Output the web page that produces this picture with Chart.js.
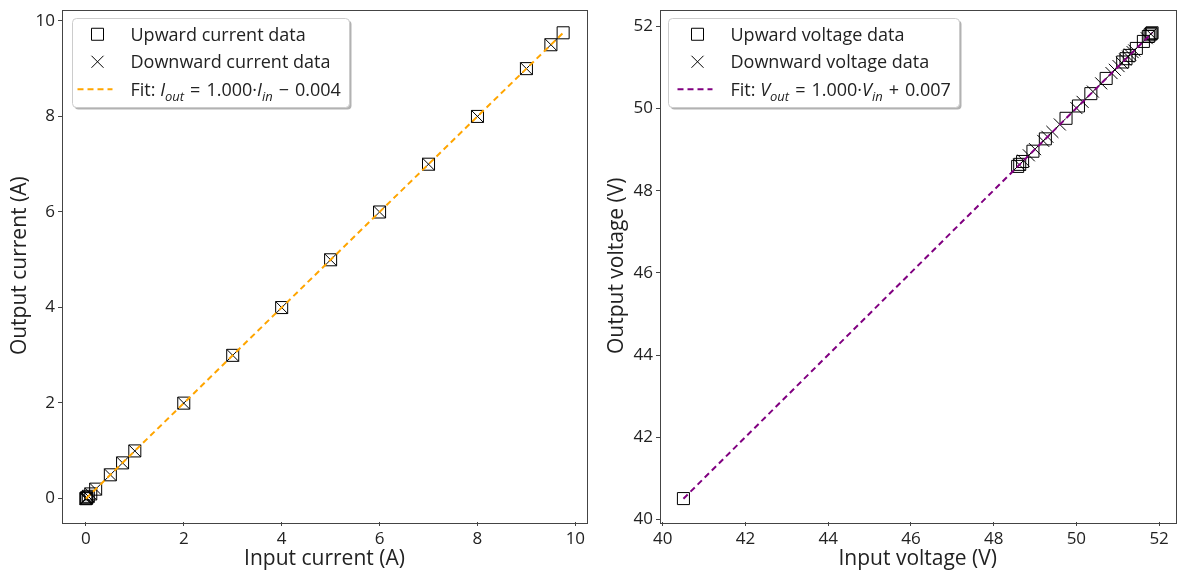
<!DOCTYPE html>
<html>
<head>
<meta charset="utf-8">
<script src="https://cdn.jsdelivr.net/npm/chart.js@4.4.1/dist/chart.umd.min.js"></script>
<style>
  html, body { margin: 0; padding: 0; background: #fff; }
  #wrap { position: relative; width: 1185px; height: 576px; overflow: hidden; }
  #currentChart { position: absolute; left: 0; top: 0; }
  #voltageChart { position: absolute; left: 597px; top: 0; }
</style>
</head>
<body>
<div id="wrap">
  <canvas id="currentChart" width="600" height="576"></canvas>
  <canvas id="voltageChart" width="588" height="576"></canvas>
</div>
<script>
// ---- values ----
var currentUpIn    = [0, 0.01, 0.02, 0.05, 0.1, 0.2, 0.5, 0.75, 1, 2, 3, 4, 5, 6, 7, 8, 9, 9.5, 9.75];
var currentUpOut   = [-0.004, 0.006, 0.016, 0.046, 0.096, 0.196, 0.496, 0.746, 0.996, 1.996, 2.996, 3.996, 4.996, 5.996, 6.996, 7.996, 8.996, 9.496, 9.746];
var currentDownIn  = [9.5, 9, 8, 7, 6, 5, 4, 3, 2, 1, 0.75, 0.5, 0.2, 0.1, 0.05, 0.02, 0.01, 0];
var currentDownOut = [9.496, 8.996, 7.996, 6.996, 5.996, 4.996, 3.996, 2.996, 1.996, 0.996, 0.746, 0.496, 0.196, 0.096, 0.046, 0.016, 0.006, -0.004];
var currentFitIn   = [0, 9.75];
var currentFitOut  = [-0.004, 9.746];

var voltageUpIn    = [40.5, 48.58, 48.63, 48.7, 48.95, 49.25, 49.75, 50.05, 50.35, 50.72, 51.12, 51.2, 51.28, 51.45, 51.62, 51.74, 51.78, 51.81, 51.83];
var voltageUpOut   = [40.51, 48.59, 48.64, 48.71, 48.96, 49.26, 49.76, 50.06, 50.36, 50.73, 51.13, 51.21, 51.29, 51.46, 51.63, 51.75, 51.79, 51.82, 51.84];
var voltageDownIn  = [51.8, 51.7, 51.4, 51.36, 51.3, 51.25, 51.18, 51.1, 51.02, 50.93, 50.85, 50.6, 50.4, 50.15, 50.0, 49.6, 49.42, 49.3, 49.2, 49.0, 48.85, 48.72, 48.62];
var voltageDownOut = [51.81, 51.71, 51.41, 51.37, 51.31, 51.26, 51.19, 51.11, 51.03, 50.94, 50.86, 50.61, 50.41, 50.16, 50.01, 49.61, 49.43, 49.31, 49.21, 49.01, 48.86, 48.73, 48.63];
var voltageFitIn   = [40.5, 51.83];
var voltageFitOut  = [40.507, 51.837];

var currentTicks = [0, 2, 4, 6, 8, 10];
var voltageTicks = [40, 42, 44, 46, 48, 50, 52];

var FONT = '"Open Sans", "DejaVu Sans", sans-serif';
var TEXT = '#222';
var FRAME = '#444';

function pairs(xs, ys) {
  return xs.map(function(x, i) { return { x: x, y: ys[i] }; });
}

// matplotlib-like 5% margins around the data
function limits(lists) {
  var all = [].concat.apply([], lists);
  var lo = Math.min.apply(null, all), hi = Math.max.apply(null, all);
  var pad = (hi - lo) * 0.05;
  return { min: lo - pad, max: hi + pad };
}

// split "Fit: $I_{out} = ...$" into styled pieces (math spaces a bit wider)
function parseRich(label) {
  var segs = [];
  label.split('$').forEach(function(p, i) {
    if (i % 2 === 0) { if (p) segs.push({ t: p }); return; }
    var re = /_\{([^}]*)\}|[A-Za-z]+|[^A-Za-z_]+/g, m;
    while ((m = re.exec(p))) {
      if (m[1] !== undefined) segs.push({ t: m[1], it: true, sub: true });
      else if (/^[A-Za-z]/.test(m[0])) segs.push({ t: m[0], it: true });
      else segs.push({ t: m[0].replace(/ /g, '\u2004') });
    }
  });
  return segs;
}

function segFont(s, size) {
  return (s.it ? 'italic ' : '') + (s.sub ? Math.round(size * 0.7) : size) + 'px ' + FONT;
}

function richText(ctx, label, x, y, size, draw) {
  var w = 0;
  parseRich(label).forEach(function(s) {
    ctx.font = segFont(s, size);
    if (draw) ctx.fillText(s.t, x + w, y + (s.sub ? size * 0.28 : 0));
    w += ctx.measureText(s.t).width;
  });
  return w;
}

function roundRect(ctx, x, y, w, h, r) {
  ctx.beginPath();
  ctx.moveTo(x + r, y);
  ctx.arcTo(x + w, y, x + w, y + h, r);
  ctx.arcTo(x + w, y + h, x, y + h, r);
  ctx.arcTo(x, y + h, x, y, r);
  ctx.arcTo(x, y, x + w, y, r);
  ctx.closePath();
}

// full box frame + legend box inside the plot (top left)
var frameAndLegend = {
  id: 'frameAndLegend',
  afterDraw: function(chart, args, o) {
    var ctx = chart.ctx, a = chart.chartArea;
    ctx.save();
    ctx.strokeStyle = FRAME;
    ctx.lineWidth = 1;
    ctx.strokeRect(Math.round(a.left) + 0.5, Math.round(a.top) + 0.5,
                   Math.round(a.right - a.left), Math.round(a.bottom - a.top));

    var items = chart.data.datasets;
    var x0 = Math.round(a.left + o.x) + 0.5, y0 = Math.round(a.top + o.y) + 0.5;
    var maxW = 0;
    items.forEach(function(ds) { maxW = Math.max(maxW, richText(ctx, ds.label, 0, 0, o.size, false)); });
    var w = Math.round(o.textX + maxW + o.padRight), h = Math.round(o.rowH * items.length + 6);

    roundRect(ctx, x0 + 2, y0 + 2, w, h, 4);
    ctx.fillStyle = 'rgba(0,0,0,0.3)';
    ctx.fill();
    roundRect(ctx, x0, y0, w, h, 4);
    ctx.fillStyle = '#fff';
    ctx.fill();
    ctx.strokeStyle = '#cccccc';
    ctx.stroke();

    items.forEach(function(ds, i) {
      var cy = y0 + 2 + o.rowH * (i + 0.5);
      var mx = x0 + o.markerX;
      ctx.strokeStyle = ds.borderColor;
      if (ds.showLine) {
        ctx.lineWidth = ds.borderWidth;
        ctx.setLineDash(ds.borderDash);
        ctx.beginPath();
        ctx.moveTo(mx - 20, cy);
        ctx.lineTo(mx + 15, cy);
        ctx.stroke();
        ctx.setLineDash([]);
      } else {
        ctx.lineWidth = 1;
        ctx.strokeStyle = ds.pointBorderColor;
        var s = 6;
        ctx.beginPath();
        if (ds.pointStyle === 'rect') {
          ctx.rect(mx - s, cy - s, 2 * s, 2 * s);
        } else {
          ctx.moveTo(mx - s, cy - s); ctx.lineTo(mx + s, cy + s);
          ctx.moveTo(mx - s, cy + s); ctx.lineTo(mx + s, cy - s);
        }
        ctx.stroke();
      }
      ctx.fillStyle = TEXT;
      ctx.textBaseline = 'alphabetic';
      ctx.textAlign = 'left';
      richText(ctx, ds.label, x0 + o.textX, cy + o.size * 0.36, o.size, true);
    });
    ctx.restore();
  }
};

function axis(lim, ticks, title, horizontal, size) {
  return {
    type: 'linear',
    min: lim.min,
    max: lim.max,
    afterBuildTicks: function(s) { s.ticks = ticks.map(function(v) { return { value: v }; }); },
    afterFit: function(s) {
      if (horizontal) { s.height = size; s.paddingLeft = 0; s.paddingRight = 0; }
      else { s.width = size; s.paddingTop = 0; s.paddingBottom = 0; }
    },
    grid: { display: true, drawOnChartArea: false, drawTicks: true, tickLength: 4, color: FRAME },
    border: { display: false },
    ticks: { color: TEXT, font: { family: FONT, size: 17 }, padding: 3, maxRotation: 0, autoSkip: false },
    title: {
      display: true, text: title, color: TEXT,
      font: { family: FONT, size: 21 },
      padding: horizontal ? { top: 0, bottom: 4 } : { top: 7, bottom: 0 }
    }
  };
}

function makeChart(id, d) {
  var xl = limits([d.upIn, d.downIn, d.fitIn]);
  var yl = limits([d.upOut, d.downOut, d.fitOut]);
  return new Chart(document.getElementById(id).getContext('2d'), {
    type: 'scatter',
    data: {
      datasets: [{
        label: d.upLabel,
        data: pairs(d.upIn, d.upOut),
        pointStyle: 'rect', pointRadius: 8.5, pointHoverRadius: 8.5,
        pointBorderColor: '#000', pointBackgroundColor: 'rgba(0,0,0,0)', pointBorderWidth: 1,
        borderColor: '#000', showLine: false, order: 2
      }, {
        label: d.downLabel,
        data: pairs(d.downIn, d.downOut),
        pointStyle: 'crossRot', pointRadius: 8.5, pointHoverRadius: 8.5,
        pointBorderColor: '#000', pointBorderWidth: 1,
        borderColor: '#000', showLine: false, order: 1
      }, {
        label: d.fitLabel,
        data: pairs(d.fitIn, d.fitOut),
        showLine: true, pointRadius: 0, borderColor: d.fitColor, borderWidth: 2,
        borderDash: [6, 4], fill: false, order: 0
      }]
    },
    options: {
      responsive: false,
      animation: false,
      devicePixelRatio: 1,
      layout: { padding: { left: 0, right: d.padRight, top: 6, bottom: 0 } },
      scales: {
        x: axis(xl, d.ticks, d.xTitle, true, 54),
        y: axis(yl, d.ticks, d.yTitle, false, d.yWidth)
      },
      plugins: {
        legend: { display: false },
        tooltip: { enabled: false },
        frameAndLegend: d.legend
      }
    },
    plugins: [frameAndLegend]
  });
}

makeChart('currentChart', {
  upIn: currentUpIn, upOut: currentUpOut,
  downIn: currentDownIn, downOut: currentDownOut,
  fitIn: currentFitIn, fitOut: currentFitOut,
  ticks: currentTicks,
  upLabel: 'Upward current data',
  downLabel: 'Downward current data',
  fitLabel: 'Fit: $I_{out} = 1.000·I_{in} − 0.004$',
  fitColor: '#FFA500',
  xTitle: 'Input current (A)', yTitle: 'Output current (A)',
  padRight: 13, yWidth: 62,
  legend: { x: 10, y: 8, size: 18, rowH: 27.5, markerX: 25, textX: 58, padRight: 9 }
});

makeChart('voltageChart', {
  upIn: voltageUpIn, upOut: voltageUpOut,
  downIn: voltageDownIn, downOut: voltageDownOut,
  fitIn: voltageFitIn, fitOut: voltageFitOut,
  ticks: voltageTicks,
  upLabel: 'Upward voltage data',
  downLabel: 'Downward voltage data',
  fitLabel: 'Fit: $V_{out} = 1.000·V_{in} + 0.007$',
  fitColor: '#800080',
  xTitle: 'Input voltage (V)', yTitle: 'Output voltage (V)',
  padRight: 3, yWidth: 63,
  legend: { x: 8, y: 8, size: 18, rowH: 27.5, markerX: 29, textX: 62, padRight: 9 }
});
</script>
</body>
</html>
